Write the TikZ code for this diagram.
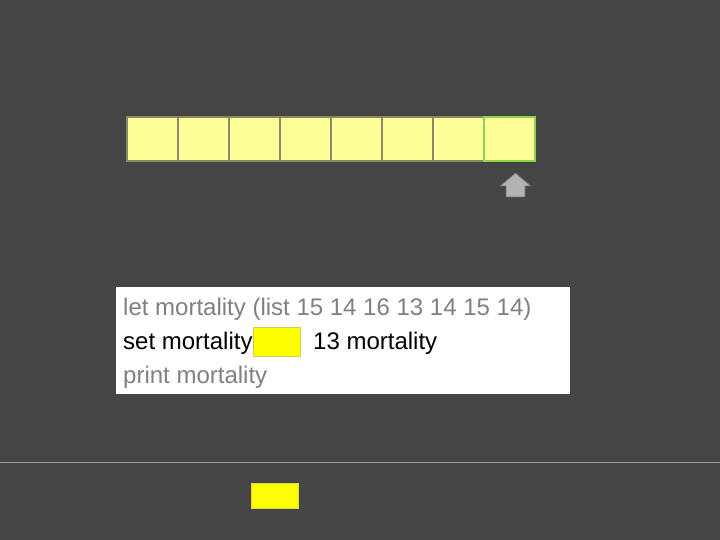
\documentclass[tikz,border=0pt]{standalone}
\usepackage{fontspec}
\setmainfont{Liberation Sans}
\usetikzlibrary{calc}

\definecolor{bggrey}{HTML}{454545}
\definecolor{cellfill}{HTML}{FFFF99}
\definecolor{celledge}{HTML}{8A8A62}
\definecolor{curedge}{HTML}{8FD24E}
\definecolor{codegrey}{HTML}{808080}
\definecolor{slotyellow}{HTML}{FFFF00}

\tikzset{
  cell/.style={draw=celledge, line width=1.5pt, fill=cellfill, minimum width=51pt, minimum height=44pt, inner sep=0pt},
  code/.style={anchor=base west, inner sep=0pt, font=\fontsize{24}{28}\selectfont},
}

\begin{document}
\begin{tikzpicture}[x=1pt,y=-1pt]
\fill[bggrey] (0,0) rectangle (720,540);
\useasboundingbox (0,0) rectangle (720,540);

% the list cells
\foreach \i in {1,...,8}
  \node[cell] (c\i) at ({127+51*(\i-0.5)},139) {};
\node[cell, draw=curedge] (c8) at ({127+51*7.5},139) {};

% pointer under the current cell
\coordinate (P) at (515.5,173);
\draw[fill=gray!60, draw=gray!85!black, line width=0.8pt]
  (P) -- ++(15.5,13) -- ++(-6,0) -- ++(0,11) -- ++(-19,0) -- ++(0,-11) -- ++(-6,0) -- cycle;

% code box
\node[fill=white, minimum width=454pt, minimum height=107pt, inner sep=0pt] (box) at (343,340.5) {};
\node[code, text=codegrey] (line1) at (123,315) {let mortality (list 15 14 16 13 14 15 14)};
\node[code] (line2) at (123,349) {set mortality};
\node[fill=slotyellow, draw=yellow!60!gray, minimum width=47pt, minimum height=29pt, inner sep=0pt] (slot) at (276.5,341.5) {};
\node[code] (line2b) at (313,349) {13 mortality};
\node[code, text=codegrey] (line3) at (123,383) {print mortality};

% divider and spare value
\draw[gray!75, line width=1pt] (0,462) -- (720,462);
\node[fill=slotyellow, draw=yellow!70!gray, minimum width=47pt, minimum height=25pt, inner sep=0pt] (spare) at (274.5,495.5) {};
\end{tikzpicture}
\end{document}
